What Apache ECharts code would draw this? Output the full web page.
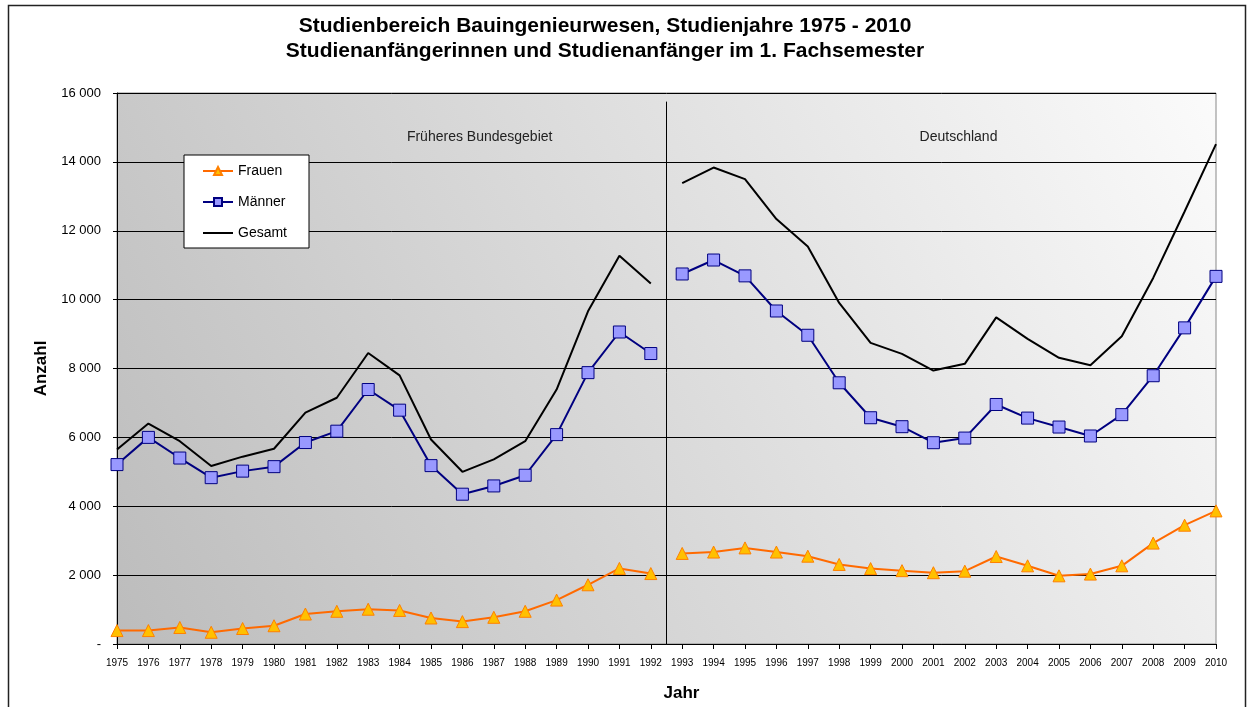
<!DOCTYPE html>
<html style="height: 100%">
<head>
<meta charset="utf-8">
<script src="https://cdn.jsdelivr.net/npm/echarts@6/dist/echarts.min.js"></script>
</head>
<body style="height: 100%; margin: 0; background: #fff">
<div id="container" style="width: 1248px; height: 707px"></div>
<script type="text/javascript">
// Jahre
var years = ['1975','1976','1977','1978','1979','1980','1981','1982','1983','1984','1985','1986','1987','1988','1989','1990','1991','1992',
             '1993','1994','1995','1996','1997','1998','1999','2000','2001','2002','2003','2004','2005','2006','2007','2008','2009','2010'];

// Früheres Bundesgebiet 1975-1992
var frauenWest = [390, 390, 480, 340, 450, 530, 870, 950, 1010, 975, 755, 650, 775, 950, 1275, 1720, 2195, 2045];
var maennerWest = [5210, 6000, 5400, 4830, 5020, 5150, 5850, 6180, 7390, 6790, 5180, 4350, 4590, 4900, 6080, 7880, 9060, 8435];
var gesamtWest = [5650, 6400, 5890, 5170, 5440, 5670, 6720, 7150, 8450, 7800, 5940, 5000, 5360, 5890, 7390, 9660, 11275, 10465];

// Deutschland 1993-2010
var frauenOst = [2630, 2670, 2790, 2670, 2550, 2310, 2190, 2130, 2070, 2115, 2540, 2270, 1980, 2030, 2270, 2930, 3450, 3865];
var maennerOst = [10745, 11150, 10690, 9670, 8965, 7585, 6570, 6310, 5845, 5980, 6955, 6560, 6300, 6040, 6660, 7790, 9180, 10675];
var gesamtOst = [13380, 13835, 13500, 12340, 11545, 9905, 8745, 8425, 7940, 8135, 9485, 8860, 8310, 8095, 8935, 10630, 12560, 14515];

var yTicks = ['-', '2 000', '4 000', '6 000', '8 000', '10 000', '12 000', '14 000', '16 000'];
var regionLabels = ['Früheres Bundesgebiet', 'Deutschland'];

var nWest = frauenWest.length;
function west(arr) { return years.map(function (y, i) { return i < nWest ? arr[i] : '-'; }); }
function ost(arr) { return years.map(function (y, i) { return i >= nWest ? arr[i - nWest] : '-'; }); }

var dom = document.getElementById('container');
var myChart = echarts.init(dom);

var frauenStyle = {
    type: 'line', name: 'Frauen', symbol: 'triangle', symbolSize: 12,
    lineStyle: { color: '#ff6a00', width: 2 },
    itemStyle: { color: '#ffc000', borderColor: '#ff8000', borderWidth: 1 }
};
var maennerStyle = {
    type: 'line', name: 'Männer', symbol: 'rect', symbolSize: 12,
    lineStyle: { color: '#000080', width: 2 },
    itemStyle: { color: '#9999ff', borderColor: '#000080', borderWidth: 1 }
};
var gesamtStyle = {
    type: 'line', name: 'Gesamt', symbol: 'none',
    lineStyle: { color: '#000', width: 2 },
    itemStyle: { color: '#000' }
};
function s(base, data) {
    var o = Object.assign({}, base);
    o.data = data;
    o.z = 3;
    return o;
}

var option = {
    animation: false,
    textStyle: { fontFamily: 'Liberation Sans, Arial, sans-serif' },
    title: {
        text: 'Studienbereich Bauingenieurwesen, Studienjahre 1975 - 2010\nStudienanfängerinnen und Studienanfänger im 1. Fachsemester',
        left: 600, textAlign: 'center', top: 9,
        textStyle: { fontSize: 21, fontWeight: 'bold', color: '#000', lineHeight: 25 }
    },
    legend: {
        orient: 'vertical', left: 184, top: 155,
        data: [
            { name: 'Frauen' },
            { name: 'Männer' },
            { name: 'Gesamt', itemStyle: { opacity: 0 } }
        ],
        backgroundColor: '#fff', borderColor: '#000', borderWidth: 1,
        padding: [9, 22, 8, 18], itemGap: 17, itemWidth: 30, itemHeight: 10,
        textStyle: { fontSize: 14, color: '#000' }
    },
    grid: {
        left: 117, right: 32, top: 93, bottom: 62, show: true,
        borderColor: '#888', borderWidth: 1,
        backgroundColor: new echarts.graphic.LinearGradient(0, 1, 1, 0, [
            { offset: 0, color: '#bcbcbc' },
            { offset: 1, color: '#fbfbfb' }
        ])
    },
    xAxis: [{
        type: 'category', data: years, boundaryGap: false,
        name: 'Jahr', nameLocation: 'middle', nameGap: 41,
        nameTextStyle: { fontSize: 17, fontWeight: 'bold', color: '#000', padding: [0, 0, 0, 30] },
        axisLine: { lineStyle: { color: '#000' } },
        axisTick: { show: true, inside: false, length: 5, lineStyle: { color: '#000' } },
        axisLabel: { fontSize: 10, color: '#000', interval: 0, margin: 14 },
        splitLine: { show: false }
    }, {
        type: 'value', min: 0, max: years.length - 1, show: false
    }],
    yAxis: {
        type: 'value', min: 0, max: 16000, interval: 2000,
        name: 'Anzahl', nameLocation: 'middle', nameGap: 67,
        nameTextStyle: { fontSize: 17, fontWeight: 'bold', color: '#000' },
        axisLine: { show: true, lineStyle: { color: '#000' } },
        axisTick: { show: true, length: 4, lineStyle: { color: '#000' } },
        axisLabel: {
            fontSize: 13, color: '#000', margin: 16,
            formatter: function (v) { return yTicks[Math.round(v / 2000)]; }
        },
        splitLine: { lineStyle: { color: '#000', width: 1 } }
    },
    series: [
        s(frauenStyle, west(frauenWest)),
        s(frauenStyle, ost(frauenOst)),
        s(maennerStyle, west(maennerWest)),
        s(maennerStyle, ost(maennerOst)),
        s(gesamtStyle, west(gesamtWest)),
        s(gesamtStyle, ost(gesamtOst)),
        {
            type: 'line', xAxisIndex: 1, data: [], silent: true, z: 2,
            markLine: {
                symbol: 'none', silent: true, label: { show: false },
                lineStyle: { color: '#000', width: 1, type: 'solid' },
                data: [[{ coord: [nWest - 0.5, 15750] }, { coord: [nWest - 0.5, 0] }]]
            },
            markPoint: {
                symbol: 'circle', symbolSize: 0, silent: true,
                label: { show: true, position: 'inside', color: '#222', fontSize: 14,
                         formatter: function (p) { return p.name; } },
                data: [
                    { name: regionLabels[0], coord: [11.55, 14720] },
                    { name: regionLabels[1], coord: [26.8, 14720] }
                ]
            }
        }
    ],
    graphic: [{
        type: 'rect', left: 6, top: 3, z: 100, silent: true,
        shape: { width: 1237, height: 720 },
        style: { fill: 'none', stroke: '#222', lineWidth: 1.5 }
    }]
};
myChart.setOption(option);
</script>
</body>
</html>
